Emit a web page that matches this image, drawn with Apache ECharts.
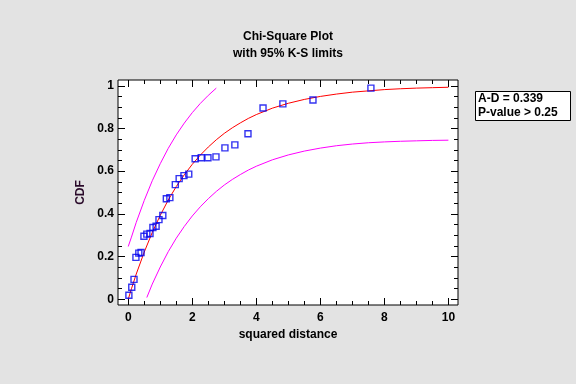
<!DOCTYPE html>
<html>
<head>
<meta charset="utf-8">
<script src="https://cdn.jsdelivr.net/npm/echarts@6/dist/echarts.min.js"></script>
<style>
html,body{margin:0;padding:0;background:#e3e3e3;}
#c{width:576px;height:384px;}
</style>
</head>
<body>
<div id="c"></div>
<script>
// observed points (squared distance, CDF)
const pointX = [0.02,0.11,0.18,0.24,0.33,0.40,0.49,0.58,0.68,0.77,0.87,0.96,1.08,1.19,1.30,1.47,1.59,1.74,1.89,2.09,2.28,2.49,2.74,3.02,3.33,3.74,4.21,4.83,5.77,7.58];
const pointY = [0.019,0.056,0.093,0.196,0.216,0.219,0.295,0.305,0.308,0.336,0.342,0.373,0.392,0.471,0.476,0.537,0.565,0.579,0.586,0.658,0.663,0.663,0.667,0.709,0.723,0.775,0.896,0.915,0.933,0.989];

// fitted CDF (red)
const cdfX = [0,0.1,0.25,0.5,0.75,1,1.25,1.5,1.75,2,2.25,2.5,2.75,3,3.25,3.5,3.75,4,4.5,5,5.5,6,6.5,7,7.5,8,8.5,9,9.5,10];
const cdfY = [0,0.049,0.118,0.221,0.313,0.393,0.465,0.528,0.583,0.632,0.675,0.713,0.747,0.777,0.803,0.826,0.847,0.865,0.895,0.918,0.936,0.950,0.961,0.970,0.976,0.982,0.986,0.989,0.991,0.993];

// upper K-S limit (magenta)
const upperX = [0,0.1,0.25,0.5,0.75,1,1.25,1.5,1.75,2,2.25,2.5,2.75];
const upperY = [0.247,0.291,0.360,0.463,0.555,0.635,0.707,0.770,0.825,0.874,0.917,0.955,0.989];

// lower K-S limit (magenta)
const lowerX = [0.58,0.75,1,1.25,1.5,1.75,2,2.25,2.5,2.75,3,3.25,3.5,3.75,4,4.5,5,5.5,6,6.5,7,7.5,8,8.5,9,9.5,10];
const lowerY = [0.008,0.071,0.151,0.223,0.286,0.341,0.390,0.433,0.471,0.505,0.535,0.561,0.584,0.605,0.623,0.653,0.676,0.694,0.708,0.719,0.727,0.733,0.737,0.740,0.742,0.744,0.745];

const xMajor = [0,2,4,6,8,10];
const xMinor = [0.5,1,1.5,2.5,3,3.5,4.5,5,5.5,6.5,7,7.5,8.5,9,9.5];
const yMajor = [0,0.2,0.4,0.6,0.8,1];
const yMinor = [0.05,0.1,0.15,0.25,0.3,0.35,0.45,0.5,0.55,0.65,0.7,0.75,0.85,0.9,0.95];

const titleText = 'Chi-Square Plot\nwith 95% K-S limits';
const statText = 'A-D = 0.339\nP-value > 0.25';
const xName = 'squared distance';
const yName = 'CDF';

const XMIN = -0.32, XMAX = 10.3, YMIN = -0.027, YMAX = 1.027;
const FONT = 'Liberation Sans, Arial, sans-serif';

function zip(a, b) { return a.map((v, i) => [v, b[i]]); }

function xAx(pos, ticks, len, labels, extra) {
  return Object.assign({
    type: 'value', position: pos, min: XMIN, max: XMAX,
    axisLine: { show: false, onZero: false },
    splitLine: { show: false },
    axisTick: { show: true, inside: true, length: len, customValues: ticks, lineStyle: { color: '#000', width: 1 } },
    axisLabel: labels ? { show: true, customValues: xMajor, margin: 7, color: '#000', fontSize: 12, fontWeight: 'bold', fontFamily: FONT } : { show: false }
  }, extra || {});
}
function yAx(pos, ticks, len, labels, extra) {
  return Object.assign({
    type: 'value', position: pos, min: YMIN, max: YMAX,
    axisLine: { show: false, onZero: false },
    splitLine: { show: false },
    axisTick: { show: true, inside: true, length: len, customValues: ticks, lineStyle: { color: '#000', width: 1 } },
    axisLabel: labels ? { show: true, customValues: yMajor, margin: 4, color: '#000', fontSize: 12, fontWeight: 'bold', fontFamily: FONT } : { show: false }
  }, extra || {});
}

const chart = echarts.init(document.getElementById('c'), null, { renderer: 'canvas' });
chart.setOption({
  backgroundColor: '#e3e3e3',
  animation: false,
  title: [
    { text: titleText, left: 'center', top: 23,
      textStyle: { fontSize: 12, fontWeight: 'bold', color: '#000', fontFamily: FONT, lineHeight: 17 } },
    { text: statText, left: 475, top: 91, padding: [1, 13, 1, 3],
      borderColor: '#000', borderWidth: 1, backgroundColor: '#fff',
      textStyle: { fontSize: 12, fontWeight: 'bold', color: '#000', fontFamily: FONT, lineHeight: 14 } }
  ],
  grid: { left: 118, right: 118, top: 80, bottom: 79, show: true, backgroundColor: '#fff', borderColor: '#000', borderWidth: 1 },
  xAxis: [
    xAx('bottom', xMajor, 7, true, { name: xName, nameLocation: 'middle', nameGap: 22,
      nameTextStyle: { fontSize: 12, fontWeight: 'bold', color: '#000', fontFamily: FONT } }),
    xAx('bottom', xMinor, 4, false),
    xAx('top', xMajor, 7, false),
    xAx('top', xMinor, 4, false)
  ],
  yAxis: [
    yAx('left', yMajor, 7, true, { name: yName, nameLocation: 'middle', nameGap: 27, nameRotate: 90,
      nameTextStyle: { fontSize: 12, fontWeight: 'bold', color: '#2a0a2a', fontFamily: FONT } }),
    yAx('left', yMinor, 4, false),
    yAx('right', yMajor, 7, false),
    yAx('right', yMinor, 4, false)
  ],
  series: [
    { type: 'line', data: zip(upperX, upperY), showSymbol: false, smooth: false,
      lineStyle: { color: '#ff00ff', width: 1 }, z: 2 },
    { type: 'line', data: zip(lowerX, lowerY), showSymbol: false, smooth: false,
      lineStyle: { color: '#ff00ff', width: 1 }, z: 2 },
    { type: 'line', data: zip(cdfX, cdfY), showSymbol: false, smooth: false,
      lineStyle: { color: '#ff0000', width: 1 }, z: 3 },
    { type: 'scatter', data: zip(pointX, pointY), symbol: 'rect', symbolSize: 6,
      itemStyle: { color: 'rgba(0,0,0,0)', borderColor: '#0000ee', borderWidth: 1.4 }, z: 4 }
  ]
});
</script>
</body>
</html>
